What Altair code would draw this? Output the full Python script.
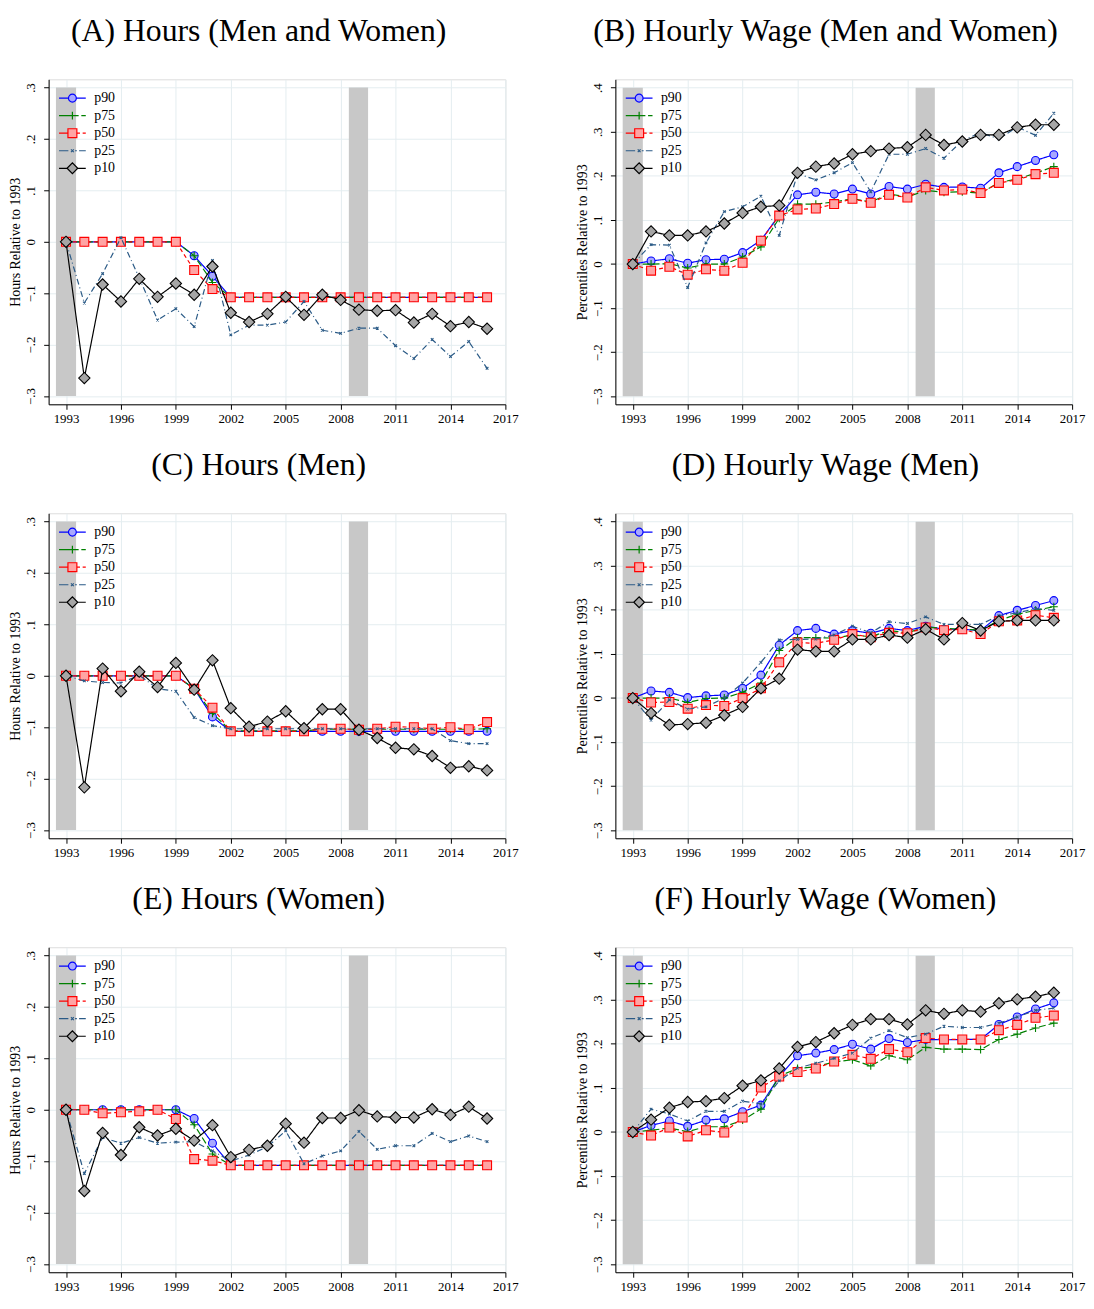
import altair as alt
import pandas as pd

# ---------------- data ----------------
years = [1993, 1994, 1995, 1996, 1997, 1998, 1999, 2000, 2001, 2002, 2003, 2004,
         2005, 2006, 2007, 2008, 2009, 2010, 2011, 2012, 2013, 2014, 2015, 2016]
series_names = ["p90", "p75", "p50", "p25", "p10"]

band_start = [1992.45, 2008.45]
band_end = [1993.55, 2009.5]

# (A) Hours (Men and Women)
A_p90 = [0, 0, 0, 0, 0, 0, 0, -0.027, -0.067, -0.108, -0.108, -0.108, -0.108, -0.108, -0.108, -0.108, -0.108, -0.108, -0.108, -0.108, -0.108, -0.108, -0.108, -0.108]
A_p75 = [0, 0, 0, 0, 0, 0, 0, -0.027, -0.079, -0.108, -0.108, -0.108, -0.108, -0.108, -0.108, -0.108, -0.108, -0.108, -0.108, -0.108, -0.108, -0.108, -0.108, -0.108]
A_p50 = [0, 0, 0, 0, 0, 0, 0, -0.055, -0.092, -0.108, -0.108, -0.108, -0.108, -0.108, -0.108, -0.108, -0.108, -0.108, -0.108, -0.108, -0.108, -0.108, -0.108, -0.108]
A_p25 = [0, -0.119, -0.062, 0.008, -0.070, -0.152, -0.130, -0.165, -0.036, -0.181, -0.162, -0.162, -0.156, -0.116, -0.172, -0.178, -0.168, -0.168, -0.202, -0.227, -0.190, -0.223, -0.194, -0.246]
A_p10 = [0, -0.265, -0.083, -0.116, -0.072, -0.107, -0.081, -0.103, -0.048, -0.138, -0.156, -0.140, -0.107, -0.142, -0.103, -0.113, -0.132, -0.134, -0.133, -0.157, -0.140, -0.164, -0.156, -0.169]

# (B) Hourly Wage (Men and Women)
B_p90 = [0, 0.007, 0.012, 0.002, 0.010, 0.011, 0.026, 0.054, 0.111, 0.157, 0.163, 0.159, 0.170, 0.159, 0.176, 0.170, 0.181, 0.174, 0.175, 0.172, 0.207, 0.221, 0.235, 0.248]
B_p75 = [0, 0.000, 0.001, -0.009, 0.000, 0.000, 0.016, 0.039, 0.104, 0.136, 0.136, 0.141, 0.148, 0.141, 0.159, 0.152, 0.167, 0.163, 0.164, 0.161, 0.185, 0.193, 0.206, 0.221]
B_p50 = [0, -0.015, -0.006, -0.024, -0.012, -0.015, 0.003, 0.053, 0.110, 0.124, 0.126, 0.136, 0.148, 0.139, 0.157, 0.151, 0.174, 0.167, 0.169, 0.161, 0.184, 0.191, 0.204, 0.207]
B_p25 = [0, 0.044, 0.043, -0.053, 0.048, 0.119, 0.130, 0.154, 0.065, 0.205, 0.191, 0.207, 0.230, 0.164, 0.249, 0.249, 0.262, 0.240, 0.280, 0.298, 0.284, 0.311, 0.292, 0.342]
B_p10 = [0, 0.074, 0.065, 0.065, 0.074, 0.092, 0.116, 0.130, 0.133, 0.207, 0.221, 0.228, 0.249, 0.256, 0.262, 0.265, 0.293, 0.270, 0.278, 0.293, 0.293, 0.310, 0.316, 0.316]

# (C) Hours (Men)
C_p90 = [0, 0, 0, 0, 0, 0, 0, -0.025, -0.080, -0.108, -0.108, -0.108, -0.108, -0.108, -0.108, -0.108, -0.108, -0.108, -0.108, -0.108, -0.108, -0.108, -0.108, -0.108]
C_p75 = [0, 0, 0, 0, 0, 0, 0, -0.025, -0.073, -0.107, -0.107, -0.107, -0.107, -0.107, -0.104, -0.104, -0.104, -0.104, -0.104, -0.104, -0.104, -0.104, -0.104, -0.103]
C_p50 = [0, 0, 0, 0, 0, 0, 0, -0.025, -0.062, -0.108, -0.108, -0.108, -0.108, -0.108, -0.103, -0.103, -0.105, -0.103, -0.099, -0.100, -0.103, -0.100, -0.104, -0.090]
C_p25 = [0, -0.010, -0.013, -0.014, 0.001, -0.025, -0.030, -0.081, -0.097, -0.103, -0.103, -0.103, -0.103, -0.103, -0.103, -0.103, -0.103, -0.103, -0.103, -0.103, -0.103, -0.126, -0.132, -0.132]
C_p10 = [0, -0.217, 0.014, -0.030, 0.008, -0.022, 0.025, -0.027, 0.030, -0.063, -0.099, -0.089, -0.069, -0.102, -0.065, -0.065, -0.105, -0.121, -0.140, -0.143, -0.156, -0.179, -0.176, -0.184]

# (D) Hourly Wage (Men)
D_p90 = [0, 0.016, 0.013, 0.001, 0.005, 0.007, 0.022, 0.052, 0.120, 0.153, 0.158, 0.145, 0.153, 0.147, 0.158, 0.153, 0.163, 0.156, 0.156, 0.153, 0.187, 0.199, 0.210, 0.221]
D_p75 = [0, 0.000, 0.000, -0.010, -0.001, 0.000, 0.013, 0.034, 0.108, 0.137, 0.137, 0.136, 0.143, 0.139, 0.153, 0.148, 0.161, 0.158, 0.156, 0.154, 0.176, 0.190, 0.199, 0.207]
D_p50 = [0, -0.010, -0.009, -0.024, -0.016, -0.018, 0.000, 0.022, 0.081, 0.126, 0.124, 0.132, 0.145, 0.138, 0.148, 0.147, 0.160, 0.154, 0.156, 0.145, 0.174, 0.176, 0.188, 0.182]
D_p25 = [0, -0.050, -0.004, -0.025, -0.020, 0.000, 0.034, 0.081, 0.132, 0.133, 0.134, 0.143, 0.163, 0.148, 0.173, 0.169, 0.184, 0.167, 0.167, 0.167, 0.187, 0.193, 0.203, 0.199]
D_p10 = [0, -0.034, -0.061, -0.059, -0.056, -0.039, -0.020, 0.022, 0.044, 0.110, 0.106, 0.106, 0.133, 0.133, 0.143, 0.137, 0.156, 0.133, 0.170, 0.153, 0.174, 0.176, 0.176, 0.176]

# (E) Hours (Women)
E_p90 = [0, 0, 0, 0, 0, 0, 0, -0.017, -0.065, -0.108, -0.108, -0.108, -0.108, -0.108, -0.108, -0.108, -0.108, -0.108, -0.108, -0.108, -0.108, -0.108, -0.108, -0.108]
E_p75 = [0, 0, 0, 0, 0, 0, 0, -0.029, -0.086, -0.108, -0.108, -0.108, -0.108, -0.108, -0.108, -0.108, -0.108, -0.108, -0.108, -0.108, -0.108, -0.108, -0.108, -0.108]
E_p50 = [0, 0, -0.007, -0.005, -0.003, 0, -0.018, -0.096, -0.099, -0.108, -0.108, -0.108, -0.108, -0.108, -0.108, -0.108, -0.108, -0.108, -0.108, -0.108, -0.108, -0.108, -0.108, -0.108]
E_p25 = [0, -0.124, -0.054, -0.065, -0.054, -0.065, -0.063, -0.062, -0.080, -0.100, -0.088, -0.072, -0.041, -0.105, -0.090, -0.080, -0.042, -0.077, -0.070, -0.070, -0.046, -0.062, -0.051, -0.062]
E_p10 = [0, -0.158, -0.045, -0.088, -0.034, -0.050, -0.037, -0.060, -0.030, -0.092, -0.078, -0.070, -0.027, -0.064, -0.016, -0.016, -0.001, -0.013, -0.015, -0.015, 0.001, -0.010, 0.006, -0.017]

# (F) Hourly Wage (Women)
F_p90 = [0, 0.015, 0.025, 0.013, 0.027, 0.030, 0.046, 0.061, 0.126, 0.173, 0.179, 0.187, 0.199, 0.188, 0.212, 0.203, 0.210, 0.209, 0.210, 0.210, 0.244, 0.261, 0.279, 0.293]
F_p75 = [0, 0.004, 0.009, 0.001, 0.012, 0.012, 0.027, 0.052, 0.127, 0.144, 0.148, 0.159, 0.164, 0.150, 0.173, 0.164, 0.192, 0.188, 0.188, 0.187, 0.210, 0.222, 0.236, 0.247]
F_p50 = [0, -0.008, 0.010, -0.010, 0.004, -0.001, 0.033, 0.101, 0.126, 0.136, 0.144, 0.160, 0.175, 0.166, 0.188, 0.181, 0.213, 0.210, 0.210, 0.210, 0.231, 0.243, 0.259, 0.264]
F_p25 = [0, 0.052, 0.041, 0.025, 0.047, 0.047, 0.070, 0.064, 0.116, 0.145, 0.156, 0.167, 0.179, 0.213, 0.230, 0.214, 0.222, 0.240, 0.237, 0.237, 0.247, 0.261, 0.276, 0.281]
F_p10 = [0, 0.028, 0.055, 0.068, 0.070, 0.077, 0.105, 0.117, 0.144, 0.193, 0.204, 0.224, 0.243, 0.256, 0.256, 0.244, 0.276, 0.268, 0.276, 0.273, 0.292, 0.301, 0.307, 0.316]

x_ticks = [1993, 1996, 1999, 2002, 2005, 2008, 2011, 2014, 2017]
hours_ticks = [-0.3, -0.2, -0.1, 0, 0.1, 0.2, 0.3]
wage_ticks = [-0.3, -0.2, -0.1, 0, 0.1, 0.2, 0.3, 0.4]

panel_titles = ["(A) Hours (Men and Women)", "(B) Hourly Wage (Men and Women)",
                "(C) Hours (Men)", "(D) Hourly Wage (Men)",
                "(E) Hours (Women)", "(F) Hourly Wage (Women)"]
hours_title = "Hours Relative to 1993"
wage_title = "Percentiles Relative to 1993"

# ---------------- style ----------------
FONT = "Liberation Serif"
line_colors = {"p90": "#0000ff", "p75": "#008000", "p50": "#ff0000", "p25": "#2a5a86", "p10": "#000000"}
fill_colors = {"p90": "#a8a8ff", "p75": "transparent", "p50": "#ffa4a4", "p25": "transparent", "p10": "#a6a6a6"}
dashes = {"p90": [1, 0], "p75": [7, 3], "p50": [4, 3], "p25": [6, 3, 1, 3], "p10": [1, 0]}
point_shapes = {"p90": "circle", "p75": "M-1,0L1,0M0,-1L0,1", "p50": "square",
                "p25": "M-1,-1L1,1M-1,1L1,-1", "p10": "diamond"}
point_sizes = {"p90": 64, "p75": 64, "p50": 81, "p25": 7, "p10": 130}
# legend keys: line (with gaps imitating the dash pattern) + marker, unit = 9 px
legend_paths = [
    "M-1.5,0L-0.44,0M0.44,0L1.5,0M0.44,0A0.44,0.44 0 1,1 -0.44,0A0.44,0.44 0 1,1 0.44,0Z",
    "M-1.5,0L0.7,0M1.0,0L1.5,0M0,-0.44L0,0.44",
    "M-1.5,0L-0.5,0M0.5,0L0.85,0M1.15,0L1.5,0M-0.5,-0.5L0.5,-0.5L0.5,0.5L-0.5,0.5Z",
    "M-1.5,0L-0.45,0M0.3,0L0.5,0M0.75,0L1.5,0M-0.16,-0.16L0.16,0.16M-0.16,0.16L0.16,-0.16",
    "M-1.5,0L-0.6,0M0.6,0L1.5,0M-0.6,0L0,-0.6L0.6,0L0,0.6Z",
]

GRID = "#e4edf0"
Y_LABEL_EXPR = ("datum.value == 0 ? '0' : (datum.value < 0 ? '\u2212' : '') + "
                "replace(format(abs(datum.value), '.1f'), '0.', '.')")


def make_panel(title, ytitle, ydomain, yticks, band_top, sdict, title_dx):
    rows = []
    for s in series_names:
        for yr, v in zip(years, sdict[s]):
            rows.append({"year": yr, "value": v, "series": s})
    df = pd.DataFrame(rows)

    xscale = alt.Scale(domain=[1992.05, 2017], nice=False, zero=False)
    yscale = alt.Scale(domain=ydomain, nice=False, zero=False)
    xaxis = alt.Axis(values=x_ticks, format="d", title=None, grid=True, gridColor=GRID,
                     gridWidth=1, tickSize=5, tickColor="black", domainColor="black",
                     labelFont=FONT, labelFontSize=13, labelColor="black", labelPadding=3,
                     labelFlush=False, labelOverlap=False)
    yaxis = alt.Axis(values=yticks, labelExpr=Y_LABEL_EXPR, title=ytitle, grid=True,
                     gridColor=GRID, gridWidth=1, tickSize=5, tickColor="black",
                     domainColor="black", labelFont=FONT, labelFontSize=13,
                     labelColor="black", labelAngle=270, labelAlign="center",
                     labelBaseline="bottom", labelPadding=6, titleFont=FONT,
                     titleFontSize=14, titleFontWeight="normal", titleColor="black",
                     titlePadding=2)

    bands_df = pd.DataFrame({"start": band_start, "end": band_end,
                             "lo": [-0.3, -0.3], "hi": [band_top, band_top]})
    bands = alt.Chart(bands_df).mark_rect(color="#c8c8c8").encode(
        x=alt.X("start:Q", scale=xscale, axis=xaxis),
        x2="end:Q",
        y=alt.Y("lo:Q", scale=yscale, axis=yaxis),
        y2="hi:Q",
    )

    base = alt.Chart(df)
    xe = alt.X("year:Q", scale=xscale, axis=xaxis)
    ye = alt.Y("value:Q", scale=yscale, axis=yaxis)
    layers = [bands]
    for s in series_names:
        sub = base.transform_filter(alt.datum.series == s)
        layers.append(sub.mark_line(color=line_colors[s], strokeDash=dashes[s],
                                    strokeWidth=1.2).encode(x=xe, y=ye))
        layers.append(sub.mark_point(shape=point_shapes[s], size=point_sizes[s],
                                     filled=True, fill=fill_colors[s], fillOpacity=1,
                                     stroke=line_colors[s], strokeWidth=1.1,
                                     opacity=1).encode(x=xe, y=ye))

    leg = alt.Legend(title=None, orient="none", legendX=14, legendY=9, symbolSize=324,
                     symbolStrokeWidth=1.2, symbolOpacity=1, labelFont=FONT,
                     labelFontSize=14, labelColor="black", labelOffset=12,
                     rowPadding=0.7, padding=0)
    legend_layer = base.mark_point(opacity=0).encode(
        x=xe, y=ye,
        shape=alt.Shape("series:N", scale=alt.Scale(domain=series_names, range=legend_paths), legend=leg),
        stroke=alt.Stroke("series:N", scale=alt.Scale(domain=series_names, range=[line_colors[s] for s in series_names]), legend=leg),
        fill=alt.Fill("series:N", scale=alt.Scale(domain=series_names, range=[fill_colors[s] for s in series_names]), legend=leg),
    )
    layers.append(legend_layer)

    return alt.layer(*layers).properties(
        width=461, height=328,
        title=alt.TitleParams(title, font=FONT, fontSize=32, fontWeight="normal",
                              anchor="middle", frame="bounds", offset=32, color="black",
                              dx=title_dx),
    )


hours_dom = [-0.316, 0.316]
wage_dom = [-0.318, 0.419]
panels = [
    make_panel(panel_titles[0], hours_title, hours_dom, hours_ticks, 0.3,
               {"p90": A_p90, "p75": A_p75, "p50": A_p50, "p25": A_p25, "p10": A_p10}, -5),
    make_panel(panel_titles[1], wage_title, wage_dom, wage_ticks, 0.4,
               {"p90": B_p90, "p75": B_p75, "p50": B_p50, "p25": B_p25, "p10": B_p10}, -5),
    make_panel(panel_titles[2], hours_title, hours_dom, hours_ticks, 0.3,
               {"p90": C_p90, "p75": C_p75, "p50": C_p50, "p25": C_p25, "p10": C_p10}, -5),
    make_panel(panel_titles[3], wage_title, wage_dom, wage_ticks, 0.4,
               {"p90": D_p90, "p75": D_p75, "p50": D_p50, "p25": D_p25, "p10": D_p10}, -5),
    make_panel(panel_titles[4], hours_title, hours_dom, hours_ticks, 0.3,
               {"p90": E_p90, "p75": E_p75, "p50": E_p50, "p25": E_p25, "p10": E_p10}, -5),
    make_panel(panel_titles[5], wage_title, wage_dom, wage_ticks, 0.4,
               {"p90": F_p90, "p75": F_p75, "p50": F_p50, "p25": F_p25, "p10": F_p10}, -5),
]

chart = alt.concat(*panels, columns=2, spacing={"row": 22, "column": 56}).resolve_scale(
    shape="independent", stroke="independent", fill="independent"
).properties(
    padding={"left": 0, "top": 0, "right": 0, "bottom": -3}
).configure_view(stroke="black", strokeWidth=1.3).configure(background="white")

chart.save("out.html", embed_options={"renderer": "svg", "actions": False})
